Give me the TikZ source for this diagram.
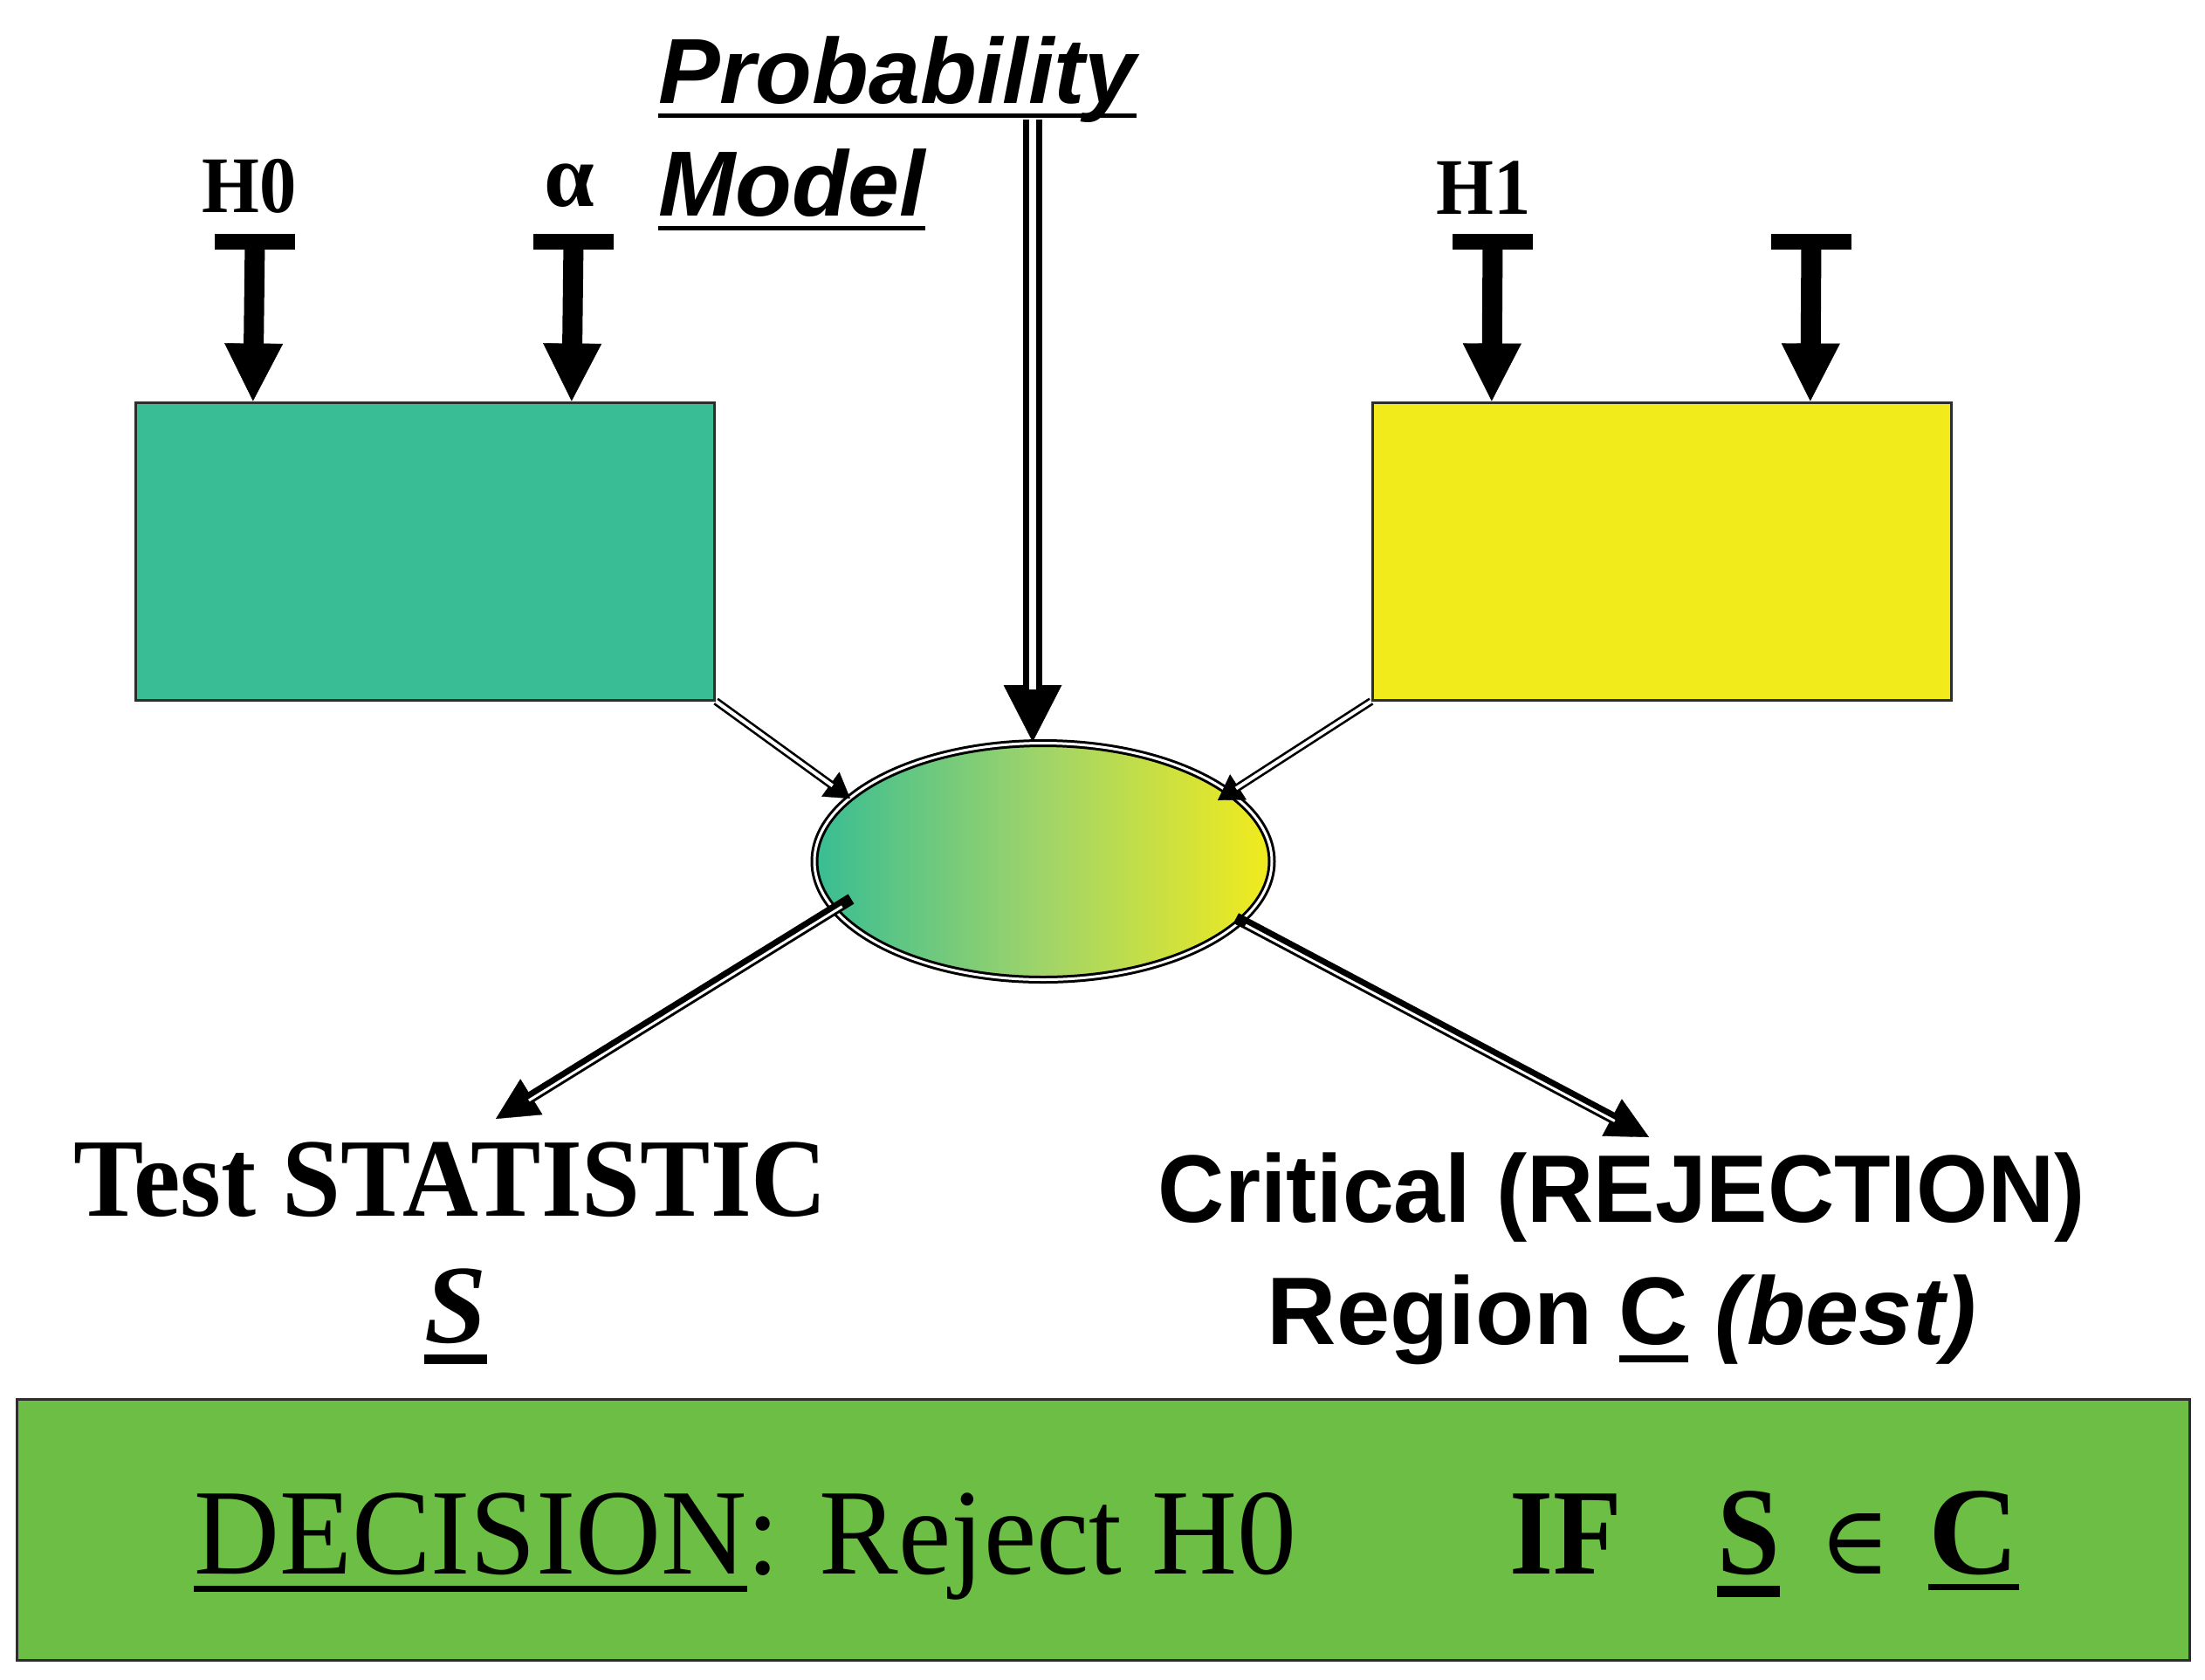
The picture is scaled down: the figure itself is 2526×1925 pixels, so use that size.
\documentclass[tikz,border=0pt]{standalone}
\usepackage{fontspec}
\usepackage{graphicx}
\newfontfamily\tnr{Liberation Serif}
\newfontfamily\arl{Liberation Sans}
\newfontfamily\djv{DejaVu Serif}
\usetikzlibrary{shapes.geometric,arrows.meta,calc}
\newcommand\myul[3]{\setbox0\hbox{#1}\makebox[0pt][l]{\rule[#2]{\wd0}{#3}}\box0\relax}
\newcommand\sx[2]{\scalebox{#1}[1]{#2}}
\definecolor{boxteal}{RGB}{56,189,148}
\definecolor{boxyellow}{RGB}{242,235,28}
\definecolor{decgreen}{RGB}{108,190,69}
\definecolor{edgegray}{RGB}{45,45,45}
\definecolor{midgrad}{RGB}{160,212,105}
\begin{document}
\begin{tikzpicture}[x=0.3pt,y=-0.3pt,
  txt/.style={inner sep=0pt,outer sep=0pt},
  hbox/.style={draw=edgegray,line width=0.9pt,inner sep=0pt,minimum width=199pt,minimum height=102.3pt},
  tbar/.style={line width=5.4pt,black},
  tshaft/.style={line width=6.9pt,black,shorten >=19pt},
  tipthin/.style={black,line width=0.1pt},
  dbl/.style={draw=black,double=white,line width=0.8pt,double distance=1.2pt},
  fatblack/.style={black,line width=3.9pt},
  fatcore/.style={white,line width=0.9pt}]
\useasboundingbox (0,0) rectangle (2526,1925);

% boxes
\node[hbox,fill=boxteal] (gbox) at (487,631.5) {};
\node[hbox,fill=boxyellow] (ybox) at (1904,631.5) {};
\node[draw=edgegray,fill=decgreen,line width=0.9pt,minimum width=746.7pt,minimum height=89.7pt,inner sep=0pt] (dec) at (1263.5,1752.5) {};

% ellipse
\node[ellipse,inner sep=0pt,minimum width=157.2pt,minimum height=81.3pt,
  left color=boxteal,right color=boxyellow,middle color=midgrad,
  draw=black,double=white,line width=0.9pt,double distance=0.9pt] (ell) at (1195,987) {};

% T arrows into boxes
\coordinate (h0s) at (292,277);
\coordinate (als) at (657,277);
\coordinate (h1s) at (1710,277);
\coordinate (x1s) at (2075,277);
\coordinate (h0t) at ($(gbox.north west)+(136,0)$);
\coordinate (alt) at ($(gbox.north west)+(501,0)$);
\coordinate (h1t) at ($(ybox.north west)+(138,0)$);
\coordinate (x1t) at ($(ybox.north west)+(503,0)$);
\foreach \s/\t in {h0s/h0t,als/alt,h1s/h1t,x1s/x1t}{
  \draw[tbar] ($(\s)+(-46,0)$) -- ($(\s)+(46,0)$);
  \draw[tipthin,-{Triangle[length=19.8pt,width=20.1pt]}] (\s) -- (\t);
  \draw[tshaft] (\s) -- (\t);
}

% probability model arrow
\coordinate (pmtop) at (1183,137);
\coordinate (pmtip) at (pmtop |- ell.north);
\draw[tipthin,-{Triangle[length=19.5pt,width=20pt]}] (pmtop) -- (pmtip);
\draw[draw=black,double=white,line width=2.2pt,double distance=2.2pt,shorten >=18pt] (pmtop) -- (pmtip);

% box -> ellipse connectors
\coordinate (gtip) at ($(ell.center)+(-221,-72)$);
\coordinate (ytip) at ($(ell.center)+(200,-70)$);
\draw[tipthin,-{Triangle[length=8.4pt,width=10.4pt]}] (gbox.south east) -- (gtip);
\draw[dbl,shorten >=7.5pt] (gbox.south east) -- (gtip);
\draw[tipthin,-{Triangle[length=8.4pt,width=10.4pt]}] (ybox.south west) -- (ytip);
\draw[dbl,shorten >=7.5pt] (ybox.south west) -- (ytip);

% ellipse -> results
\coordinate (lls) at ($(ell.center)+(-220,43)$);
\coordinate (llt) at (568,1282);
\coordinate (lrs) at ($(ell.center)+(221,65)$);
\coordinate (lrt) at (1889,1303);
\draw[tipthin,-{Triangle[length=14.4pt,width=14.4pt]}] (lls) -- (llt);
\draw[fatblack,shorten >=13pt] (lls) -- (llt);
\draw[fatcore,shorten >=13pt,shorten <=4pt] ($(lls)+(1.05,1.7)$) -- ($(llt)+(1.05,1.7)$);
\draw[tipthin,-{Triangle[length=14.4pt,width=14.4pt]}] (lrs) -- (lrt);
\draw[fatblack,shorten >=13pt] (lrs) -- (lrt);
\draw[fatcore,shorten >=13pt,shorten <=4pt] ($(lrs)+(-0.94,1.77)$) -- ($(lrt)+(-0.94,1.77)$);

% labels
\node[txt,anchor=base,font=\tnr\bfseries\fontsize{27.6pt}{33pt}\selectfont] (h0) at (286,243) {\sx{0.92}{H0}};
\node[txt,anchor=base,font=\tnr\bfseries\fontsize{31pt}{36pt}\selectfont] (alpha) at (652,236) {α};
\node[txt,anchor=base,font=\tnr\bfseries\fontsize{27.6pt}{33pt}\selectfont] (h1) at (1700,245) {\sx{0.92}{H1}};
\node[txt,anchor=base west,font=\arl\bfseries\itshape\fontsize{31.8pt}{38pt}\selectfont] (prob) at (754,118) {\myul{Probability}{-5.1pt}{1.5pt}};
\node[txt,anchor=base west,font=\arl\bfseries\itshape\fontsize{31.8pt}{38pt}\selectfont] (model) at (754,247) {\myul{Model}{-4.95pt}{1.5pt}};

\node[txt,anchor=base,font=\tnr\bfseries\fontsize{38.4pt}{44pt}\selectfont] (tstat) at (516,1393) {\sx{0.94}{Test STATISTIC}};
\node[txt,anchor=base,font=\tnr\bfseries\itshape\fontsize{38.4pt}{44pt}\selectfont] (svar) at (522,1538) {\myul{S}{-7.5pt}{3.3pt}};

\node[txt,anchor=base,font=\arl\bfseries\fontsize{33pt}{40pt}\selectfont] (crit) at (1858,1400) {\sx{0.96}{Critical (REJECTION)}};
\node[txt,anchor=base,font=\arl\bfseries\fontsize{33pt}{40pt}\selectfont] (region) at (1858,1540) {Region \myul{C}{-6.3pt}{2.4pt} \textit{(best)}};

\node[txt,anchor=base west,font=\tnr\fontsize{42pt}{48pt}\selectfont] (decl) at (222,1803) {\sx{0.97}{\myul{DECISION}{-6.3pt}{2.1pt}: Reject H0}};
\node[txt,anchor=base west,font=\tnr\bfseries\fontsize{42pt}{48pt}\selectfont] (ifw) at (1729,1803) {\sx{0.92}{IF}};
\node[txt,anchor=base west,font=\tnr\bfseries\fontsize{43pt}{48pt}\selectfont] (sdec) at (1967,1803) {\myul{\sx{0.9}{S}}{-8.1pt}{3.9pt}};
\node[txt,anchor=base,font=\djv\fontsize{33pt}{40pt}\selectfont] (elem) at (2125,1803) {∈};
\node[txt,anchor=base west,font=\tnr\bfseries\fontsize{43pt}{48pt}\selectfont] (cdec) at (2209,1803) {\myul{C}{-5.7pt}{2.1pt}};
\end{tikzpicture}
\end{document}
